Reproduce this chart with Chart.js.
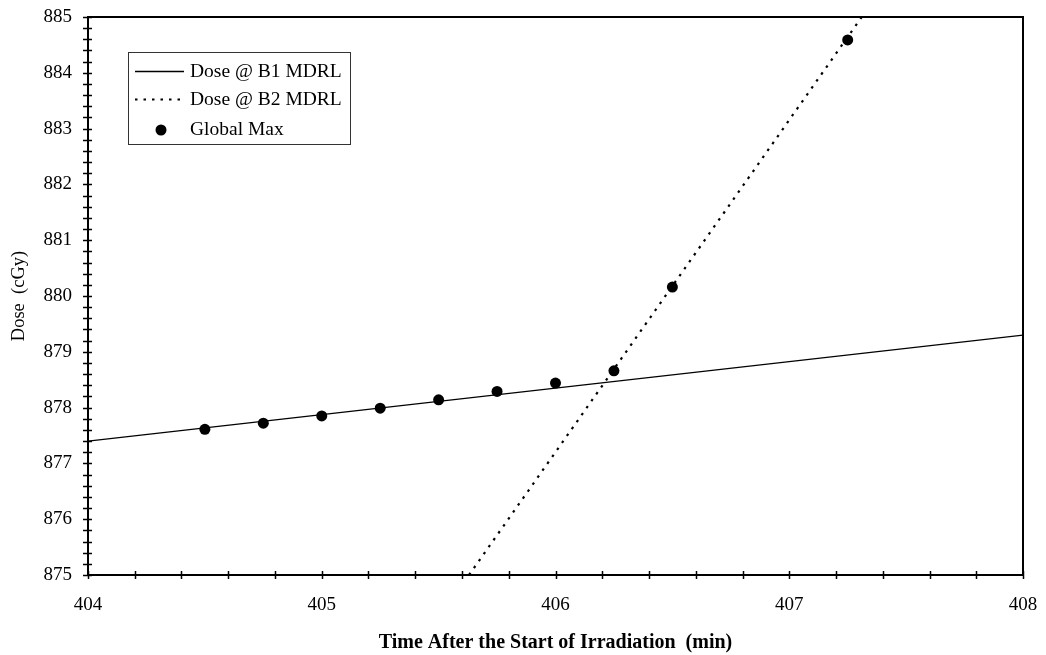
<!DOCTYPE html>
<html><head><meta charset="utf-8">
<script src="https://cdn.jsdelivr.net/npm/chart.js@4"></script>
<style>html,body{margin:0;padding:0;background:#fff}#wrap{width:1046px;height:655px}</style>
</head><body><div id="wrap"><canvas id="c" width="1046" height="655"></canvas></div>
<script>
// ---- data ----
const timeMin   = [404.5, 404.75, 405, 405.25, 405.5, 405.75, 406, 406.25, 406.5, 407.25];
const globalMax = [877.61, 877.72, 877.85, 877.99, 878.14, 878.29, 878.44, 878.66, 880.16, 884.59];
const b1Time = [404, 408];
const b1Dose = [877.40, 879.30];
const b2Time = [405.63, 407.31];
const b2Dose = [875, 885];
const xTickLabels = [404, 405, 406, 407, 408];
const yTickLabels = [875, 876, 877, 878, 879, 880, 881, 882, 883, 884, 885];
const seriesLabels = ['Dose @ B1 MDRL', 'Dose @ B2 MDRL', 'Global Max'];

const pts = (xs, ys) => xs.map((x, i) => ({x: x, y: ys[i]}));
const SERIF = '"Liberation Serif", "Times New Roman", serif';

const frameTicks = {
  id: 'frameTicks',
  afterDatasetsDraw(chart) {
    const {ctx, chartArea: a, scales} = chart;
    ctx.save();
    ctx.strokeStyle = '#000';
    ctx.lineWidth = 1.5;
    ctx.beginPath();
    scales.x.ticks.forEach(t => {
      const px = Math.round(scales.x.getPixelForValue(t.value)) + 0.5;
      ctx.moveTo(px, a.bottom - 4); ctx.lineTo(px, a.bottom + 4);
    });
    scales.y.ticks.forEach(t => {
      const py = Math.round(scales.y.getPixelForValue(t.value)) + 0.5;
      ctx.moveTo(a.left - 5, py); ctx.lineTo(a.left + 4, py);
    });
    ctx.stroke();
    ctx.lineWidth = 2;
    ctx.strokeRect(a.left, a.top, a.right - a.left, a.bottom - a.top);
    ctx.restore();
  }
};

const innerLegend = {
  id: 'innerLegend',
  afterDraw(chart) {
    const {ctx} = chart;
    const bx = 128, by = 52, bw = 222, bh = 92;
    ctx.save();
    ctx.fillStyle = '#fff';
    ctx.fillRect(bx, by, bw, bh);
    ctx.strokeStyle = '#333';
    ctx.lineWidth = 1;
    ctx.strokeRect(bx + 0.5, by + 0.5, bw, bh);
    ctx.font = '19.5px ' + SERIF;
    ctx.textBaseline = 'middle';
    ctx.fillStyle = '#000';
    const rows = [71, 99, 129];
    chart.data.datasets.forEach((ds, i) => {
      const y = rows[i];
      if (ds.showLine) {
        ctx.save();
        ctx.strokeStyle = '#000';
        ctx.lineWidth = ds.borderWidth;
        ctx.setLineDash(ds.borderDash || []);
        ctx.beginPath();
        ctx.moveTo(135, y + 0.5); ctx.lineTo(184, y + 0.5);
        ctx.stroke();
        ctx.restore();
      } else {
        ctx.beginPath();
        ctx.arc(161, y + 1, ds.pointRadius, 0, Math.PI * 2);
        ctx.fill();
      }
      ctx.fillText(ds.label, 190, y + 1);
    });
    ctx.restore();
  }
};

const tickCb = list => v => {
  const r = Math.round(v);
  return Math.abs(v - r) < 1e-6 && list.includes(r) ? String(r) : '';
};

new Chart(document.getElementById('c'), {
  type: 'scatter',
  data: {
    datasets: [
      {label: seriesLabels[0], data: pts(b1Time, b1Dose), showLine: true, borderColor: '#000',
       borderWidth: 1.3, pointRadius: 0, fill: false},
      {label: seriesLabels[1], data: pts(b2Time, b2Dose), showLine: true, borderColor: '#000',
       borderWidth: 2.2, borderDash: [2.5, 6], pointRadius: 0, fill: false},
      {label: seriesLabels[2], data: pts(timeMin, globalMax), showLine: false,
       pointRadius: 5.5, pointBackgroundColor: '#000', pointBorderColor: '#000', pointBorderWidth: 0}
    ]
  },
  options: {
    responsive: false,
    animation: false,
    devicePixelRatio: 1,
    layout: {padding: {top: 17, right: 23, bottom: 0, left: 0}},
    plugins: {legend: {display: false}, tooltip: {enabled: false}},
    scales: {
      x: {
        type: 'linear', min: 404, max: 408,
        afterFit: s => { s.height = 80; },
        grid: {display: true, drawOnChartArea: false, drawTicks: true, tickLength: 15,
               tickColor: 'rgba(0,0,0,0)', color: 'rgba(0,0,0,0)'},
        border: {display: false},
        ticks: {stepSize: 0.2, autoSkip: false, maxRotation: 0, padding: 4, color: '#000',
                font: {family: SERIF, size: 19}, callback: tickCb(xTickLabels)},
        title: {display: true, text: 'Time After the Start of Irradiation  (min)', color: '#000',
                font: {family: SERIF, size: 20, weight: 'bold'}, padding: {top: 0, bottom: 0}}
      },
      y: {
        type: 'linear', min: 875, max: 885,
        afterFit: s => { s.width = 88; },
        grid: {display: true, drawOnChartArea: false, drawTicks: true, tickLength: 12,
               tickColor: 'rgba(0,0,0,0)', color: 'rgba(0,0,0,0)'},
        border: {display: false},
        ticks: {stepSize: 0.2, autoSkip: false, padding: 4, color: '#000',
                font: {family: SERIF, size: 19}, callback: tickCb(yTickLabels)},
        title: {display: true, text: 'Dose  (cGy)', color: '#000',
                font: {family: SERIF, size: 18.5}, padding: {top: 8, bottom: 0}}
      }
    }
  },
  plugins: [frameTicks, innerLegend]
});
</script></body></html>
